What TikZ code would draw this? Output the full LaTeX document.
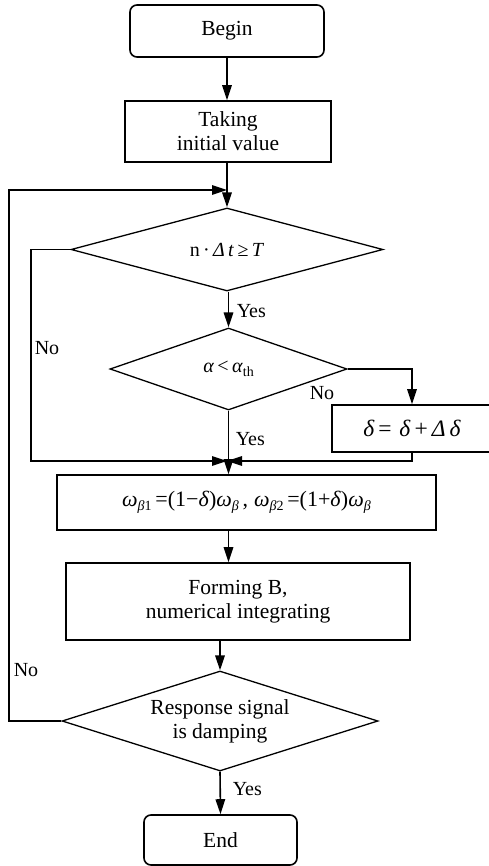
\documentclass[tikz,border=0pt]{standalone}
\usepackage{fontspec}
\setmainfont{Liberation Serif}
\usetikzlibrary{shapes.geometric,arrows.meta,calc}
\newcommand\lowsub[1]{\raisebox{-0.45ex}{\fontsize{14}{14}\selectfont #1}}
\begin{document}
\begin{tikzpicture}[x=1pt,y=-1pt,
  line width=1.6pt,
  every node/.style={font=\fontsize{21.5}{24}\selectfont},
  proc/.style={draw, rectangle, inner sep=0pt, align=center},
  term/.style={proc, rounded corners=7pt},
  dec/.style={draw, diamond, inner sep=0pt, align=center, line width=1.3pt},
  arr/.style={-{Triangle[length=15pt,width=9.5pt]}},
  lbl/.style={font=\fontsize{20}{22}\selectfont, inner sep=0pt, anchor=west}]
\useasboundingbox (0,0) rectangle (488,866);
\fill[white] (0,0) rectangle (488,866);

\node[term, minimum width=194pt, minimum height=52pt] (begin) at (227,31) {Begin};
\node[proc, minimum width=206pt, minimum height=61pt] (init) at (228,131.5) {Taking\\ initial value};
\node[dec, minimum width=312pt, minimum height=83pt, aspect=3.76] (d1) at (227,249.5)
  {\fontsize{20}{22}\selectfont n\,·\,\textit{Δ}\,\textit{t}\,≥\,\textit{T}};
\node[dec, minimum width=237pt, minimum height=82pt, aspect=2.9] (d2) at (228.5,369)
  {\fontsize{20}{22}\selectfont \textit{α}\,<\,\textit{α}\lowsub{th}};
\node[proc, minimum width=160pt, minimum height=47pt] (delta) at (412,428.5)
  {\fontsize{23.5}{25}\selectfont\textit{δ}\,=\,\,\textit{δ}\,+\,\textit{Δ}\,\textit{δ}};
\node[proc, minimum width=379pt, minimum height=55pt] (omega) at (246.5,502.5)
  {\fontsize{22}{24}\selectfont \textit{ω}\lowsub{\textit{β}1}\,=(1−\textit{δ})\textit{ω}\lowsub{\textit{β}}\,,\;\textit{ω}\lowsub{\textit{β}2}\,=(1+\textit{δ})\textit{ω}\lowsub{\textit{β}}};
\node[proc, minimum width=344pt, minimum height=77pt] (form) at (238,601.5) {Forming B,\\ numerical integrating};
\node[dec, minimum width=316pt, minimum height=100pt, aspect=3.16] (d3) at (220,721) {Response signal\\ is damping};
\node[term, minimum width=153pt, minimum height=50pt] (end) at (220.5,840) {End};

\coordinate (j1) at (227,190);
\coordinate (j2) at (227,461);
\coordinate (lx1) at (9,500);
\coordinate (lx2) at (31,350);

\draw[arr] (begin.south) -- (begin.south |- init.north);
\draw[arr] (init.south -| d1.north) -- (d1.north);
\draw[arr] (d3.west) -| (lx1) |- (j1);
\draw[arr] (d1.south -| d2.north) -- (d2.north);
\draw[arr] (d1.west) -| (lx2) |- (j2);
\draw[arr] (d2.east) -| (delta.north);
\draw[arr] (delta.south) |- (j2);
\draw[arr] (d2.south) -- (d2.south |- omega.north);
\draw[arr] (omega.south -| d2.south) -- (form.north -| d2.south);
\draw[arr] (form.south -| d3.north) -- (d3.north);
\draw[arr] (d3.south) -- (end.north);

\node[lbl] (y1) at (236,311) {Yes};
\node[lbl] (n1) at (34,348) {No};
\node[lbl] (n2) at (309,393) {No};
\node[lbl] (y2) at (235,439) {Yes};
\node[lbl] (n3) at (13,670) {No};
\node[lbl] (y3) at (232,789) {Yes};
\end{tikzpicture}
\end{document}
